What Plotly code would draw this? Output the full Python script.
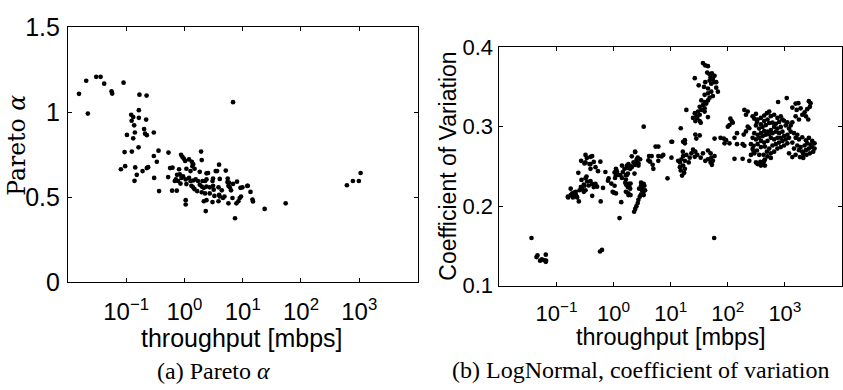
import plotly.graph_objects as go

# ---------------- Data: (a) Pareto alpha vs throughput ----------------
pareto_tp = [0.0155, 0.0206, 0.0220, 0.0306, 0.0364, 0.0419, 0.0561, 0.0575, 0.0901, 0.169, 0.224, 6.82,
             0.165, 0.122, 0.132, 0.124, 0.165, 0.220, 0.137, 0.103, 0.141, 0.203, 0.211, 0.226,
             0.298, 0.132, 0.163, 0.0938, 0.125, 0.359, 0.298, 0.336, 0.532, 0.0811, 0.096, 0.143,
             0.152, 0.191, 0.226, 0.238, 0.139, 0.302, 0.367, 0.525, 0.567, 0.624, 0.614, 0.739,
             1.93, 0.875, 0.925, 0.975, 1.03, 1.20, 1.34, 1.41, 1.37, 1.49, 1.98, 3.93,
             0.809, 1.08, 1.27, 1.83, 2.39, 2.54, 3.44, 3.63, 5.12, 0.748, 0.832, 0.889,
             0.948, 0.711, 0.683, 0.778, 1.05, 1.20, 1.27, 1.41, 1.56, 1.71, 2.04, 2.26,
             2.39, 3.10, 3.03, 4.04, 5.53, 5.82, 7.98, 0.855, 1.08, 1.32, 1.41, 1.49,
             1.83, 1.98, 2.15, 2.39, 2.72, 3.10, 3.18, 3.84, 4.37, 5.69, 5.98, 6.31,
             9.89, 12.2, 1.65, 1.98, 2.26, 2.72, 3.27, 3.93, 4.86, 4.59, 6.67, 8.89,
             9.35, 13.6, 14.7, 15.0, 1.05, 1.05, 2.15, 2.39, 3.03, 3.84, 4.04, 5.69,
             8.43, 7.80, 2.32, 7.38, 23.8, 54.6, 614, 778, 986, 1055, 5.47, 6.82,
             9.14, 12.0]
pareto_alpha = [1.107, 1.184, 0.991, 1.207, 1.207, 1.167, 1.122, 1.109, 1.173, 1.102, 1.097, 1.058,
                1.011, 0.984, 0.971, 0.949, 0.966, 0.956, 0.922, 0.866, 0.880, 0.900, 0.873, 0.864,
                0.880, 0.846, 0.793, 0.765, 0.768, 0.773, 0.742, 0.708, 0.762, 0.664, 0.682, 0.675,
                0.631, 0.653, 0.671, 0.676, 0.596, 0.613, 0.536, 0.618, 0.671, 0.673, 0.538, 0.538,
                0.768, 0.749, 0.736, 0.726, 0.713, 0.722, 0.708, 0.694, 0.682, 0.667, 0.718, 0.691,
                0.664, 0.667, 0.653, 0.649, 0.640, 0.642, 0.653, 0.653, 0.656, 0.631, 0.634, 0.613,
                0.622, 0.604, 0.595, 0.595, 0.604, 0.613, 0.595, 0.598, 0.604, 0.595, 0.595, 0.595,
                0.604, 0.609, 0.595, 0.607, 0.609, 0.585, 0.591, 0.580, 0.577, 0.567, 0.558, 0.547,
                0.573, 0.562, 0.555, 0.562, 0.558, 0.567, 0.544, 0.558, 0.540, 0.567, 0.558, 0.540,
                0.558, 0.567, 0.536, 0.529, 0.522, 0.522, 0.507, 0.513, 0.504, 0.495, 0.495, 0.495,
                0.504, 0.531, 0.486, 0.475, 0.482, 0.457, 0.476, 0.482, 0.471, 0.476, 0.504, 0.464,
                0.476, 0.464, 0.418, 0.376, 0.431, 0.464, 0.570, 0.595, 0.595, 0.642, 0.589, 0.578,
                0.555, 0.566]

# ---------------- Data: (b) LogNormal coefficient of variation ----------------
cov_tp = [
    0.0365, 0.0464, 0.0446, 0.0649, 0.0553, 0.0607, 0.0657, 0.0649, 0.0516, 0.578, 0.626, 1.27, 57.8,
    0.158, 0.177, 0.194, 0.216, 0.221, 0.210, 0.246, 0.267, 0.281, 0.301, 0.322, 0.422,
    0.594, 0.652, 1.01, 1.10, 1.36, 1.66, 1.77, 1.82, 1.98,
    2.29, 2.39, 2.51, 2.65, 2.72, 2.87, 3.03, 3.13, 3.19, 3.37, 2.80, 3.03,
    3.37, 5.44, 2.39, 0.422, 0.322, 0.394, 0.587, 0.241, 0.394, 0.481, 0.533, 0.718,
    1.10, 1.14, 1.40, 1.55, 1.71, 1.82, 2.03, 2.23, 2.38, 2.54, 2.72, 2.91,
    2.65, 1.95, 1.78, 2.32, 1.64, 1.31, 1.10, 4.18, 4.35, 4.97,
    0.274, 0.322, 0.344, 0.394, 0.422, 0.481, 0.449, 0.513, 0.367, 0.301, 0.274, 0.253,
    0.216, 0.188, 0.177, 0.201, 0.160, 0.230, 0.818, 0.796, 0.962, 1.64, 1.82, 1.95,
    1.82, 3.03, 3.33, 3.46, 3.56, 3.37, 0.270, 0.309, 0.322, 0.339, 0.378, 0.394,
    0.449, 0.309, 0.335, 1.04, 1.06, 1.22, 1.40, 1.45, 1.71, 2.08, 2.54, 2.38,
    2.08, 1.71, 1.60, 1.87, 1.98, 1.64, 2.72, 1.04, 0.912,
    36.7, 40.3, 44.9, 43.6, 48.0, 52.7, 50.0, 54.8, 58.6, 57.1, 51.3, 48.0, 62.7,
    26.4, 30.9, 38.3, 40.3, 44.9, 51.3, 44.9, 39.3, 48.0, 54.8, 67.0, 62.7,
    34.4, 39.3, 42.0, 36.7, 32.2, 34.4, 30.1, 26.4, 28.1, 32.2, 39.3, 44.9,
    29.2, 24.6, 27.0, 32.2, 39.3, 33.5, 44.9, 18.8, 15.0, 10.6, 16.5, 17.7,
    27.0, 28.1, 32.2, 111, 117, 122, 100, 107, 58.6, 74.6, 85.1, 93.4,
    87.7, 107, 24.6, 27.0, 23.0, 18.8, 16.5, 15.4, 14.5, 13.5, 17.7, 21.5,
    20.7, 16.5, 14.5, 15.0, 17.2, 15.8, 17.7, 26.4, 29.2, 33.5, 36.7, 44.9,
    50.0, 51.3, 54.8, 50.0, 44.9, 58.6, 52.7, 40.3, 6.07, 6.92, 6.07, 8.79,
    4.64, 7.41, 4.06, 4.83, 10.3, 10.3, 17.7, 16.3, 6.07,
    131, 145, 145, 131, 195, 208, 223, 272, 291, 324, 311, 223,
    238, 208, 190, 182, 195, 254, 182, 238, 254, 283, 311, 356,
    380, 371, 435, 760, 1076, 1540, 1720, 2630, 2810, 1607, 1884, 2213,
    2460, 2740, 1349, 2333, 2014, 2564, 1762, 1542, 332, 291, 324, 355,
    272, 332, 380, 434, 483, 531, 567, 648, 741, 847, 905, 434,
    496, 380, 311, 355, 406, 464, 531, 606, 693, 792, 967, 1105,
    1033, 847, 741, 648, 567, 496, 434, 380, 332, 291, 272, 311,
    355, 406, 464, 531, 606, 693, 792, 905, 1181, 1263, 1349, 1263,
    1105, 967, 847, 741, 648, 567, 496, 434, 380, 332, 283, 380,
    446, 531, 606, 693, 792, 905, 1033, 741, 648, 567, 483, 423,
    496, 567, 446, 847, 967, 1105, 380, 423, 446,
    1443, 1650, 1542, 1762, 2014, 2333, 2630, 3006, 3302, 2810, 2460, 2213,
    1884, 1650, 1443, 1762, 2014, 2333, 2630, 3006, 3302, 3133, 2740, 2399,
    2098, 1836, 2098, 1542, 1349, 1181, 1349, 1181,
]
cov_cv = [
    0.160, 0.138, 0.136, 0.139, 0.133, 0.132, 0.1315, 0.130, 0.1315, 0.143, 0.145, 0.185, 0.160,
    0.212, 0.214, 0.211, 0.215, 0.213, 0.2175, 0.206, 0.224, 0.221, 0.218, 0.220, 0.213,
    0.206, 0.223, 0.217, 0.216, 0.205, 0.227, 0.224, 0.216, 0.214,
    0.193, 0.1965, 0.200, 0.204, 0.208, 0.212, 0.215, 0.220, 0.224, 0.228, 0.222, 0.226,
    0.300, 0.275, 0.268, 0.263, 0.255, 0.253, 0.256, 0.242, 0.247, 0.249, 0.244, 0.243,
    0.247, 0.244, 0.251, 0.247, 0.251, 0.253, 0.250, 0.255, 0.252, 0.256, 0.254, 0.259,
    0.261, 0.247, 0.241, 0.241, 0.239, 0.239, 0.239, 0.263, 0.256, 0.247,
    0.233, 0.235, 0.231, 0.2315, 0.228, 0.228, 0.224, 0.2245, 0.226, 0.227, 0.224, 0.220,
    0.218, 0.216, 0.222, 0.213, 0.211, 0.211, 0.235, 0.232, 0.218, 0.218, 0.228, 0.222,
    0.214, 0.2295, 0.218, 0.2257, 0.220, 0.214, 0.257, 0.2537, 0.2645, 0.2607, 0.253, 0.262,
    0.2557, 0.2257, 0.2373, 0.2424, 0.2354, 0.2393, 0.2354, 0.243, 0.248, 0.249, 0.259, 0.2685,
    0.2627, 0.2393, 0.2295, 0.2245, 0.2284, 0.2335, 0.251, 0.2257, 0.2284,
    0.380, 0.377, 0.376, 0.368, 0.366, 0.367, 0.362, 0.360, 0.364, 0.356, 0.354, 0.358, 0.356,
    0.361, 0.352, 0.350, 0.356, 0.348, 0.344, 0.342, 0.340, 0.3365, 0.3385, 0.344, 0.349,
    0.333, 0.331, 0.329, 0.327, 0.325, 0.321, 0.319, 0.317, 0.313, 0.315, 0.323, 0.333,
    0.311, 0.311, 0.307, 0.307, 0.319, 0.305, 0.312, 0.321, 0.298, 0.281, 0.281, 0.283,
    0.290, 0.285, 0.289, 0.310, 0.307, 0.305, 0.300, 0.302, 0.285, 0.286, 0.285, 0.283,
    0.279, 0.279, 0.271, 0.2685, 0.2665, 0.2645, 0.263, 0.259, 0.255, 0.257, 0.257, 0.261,
    0.255, 0.251, 0.249, 0.245, 0.242, 0.2385, 0.247, 0.262, 0.2645, 0.261, 0.2665, 0.270,
    0.2665, 0.261, 0.257, 0.255, 0.259, 0.263, 0.252, 0.257, 0.263, 0.2625, 0.257, 0.235,
    0.263, 0.2645, 0.2575, 0.252, 0.281, 0.261, 0.279, 0.2685, 0.275,
    0.286, 0.2918, 0.278, 0.2595, 0.321, 0.315, 0.319, 0.313, 0.310, 0.306, 0.316, 0.300,
    0.298, 0.294, 0.290, 0.278, 0.276, 0.278, 0.2595, 0.257, 0.2645, 0.2685, 0.255, 0.253,
    0.251, 0.2556, 0.257, 0.331, 0.336, 0.329, 0.3295, 0.332, 0.3295, 0.321, 0.323, 0.318,
    0.322, 0.325, 0.324, 0.313, 0.315, 0.309, 0.309, 0.313, 0.253, 0.2665, 0.270, 0.2646,
    0.272, 0.309, 0.311, 0.314, 0.317, 0.319, 0.3132, 0.315, 0.311, 0.313, 0.309, 0.307,
    0.309, 0.303, 0.3015, 0.2976, 0.2996, 0.302, 0.3046, 0.305, 0.3035, 0.306, 0.3074, 0.3054,
    0.3015, 0.2996, 0.2976, 0.2996, 0.2957, 0.2937, 0.2945, 0.2918, 0.2898, 0.2918, 0.286, 0.284,
    0.286, 0.288, 0.2898, 0.2906, 0.2918, 0.2937, 0.2918, 0.2937, 0.2976, 0.3015, 0.3054, 0.2937,
    0.2898, 0.288, 0.286, 0.286, 0.284, 0.286, 0.282, 0.280, 0.282, 0.278, 0.276, 0.2743,
    0.275, 0.2724, 0.2763, 0.278, 0.280, 0.282, 0.284, 0.2724, 0.2685, 0.2665, 0.2685, 0.2646,
    0.2626, 0.2607, 0.2587, 0.2743, 0.2763, 0.279, 0.253, 0.2556, 0.251,
    0.2918, 0.2898, 0.286, 0.284, 0.2867, 0.2829, 0.286, 0.282, 0.279, 0.2774, 0.279, 0.2763,
    0.2743, 0.2763, 0.2724, 0.2704, 0.2685, 0.2704, 0.2724, 0.2743, 0.2724, 0.2685, 0.2665, 0.2646,
    0.2657, 0.2618, 0.2607, 0.2646, 0.2618, 0.2665, 0.280, 0.286,
]

# tick labels
x_tickvals = [0.1, 1, 10, 100, 1000]
x_ticktext = ["10<sup>\u22121</sup>", "10<sup>0</sup>", "10<sup>1</sup>", "10<sup>2</sup>", "10<sup>3</sup>"]
left_yticks = [0, 0.5, 1, 1.5]
left_yticktext = ["0", "0.5", "1", "1.5"]
right_yticks = [0.1, 0.2, 0.3, 0.4]
right_yticktext = ["0.1", "0.2", "0.3", "0.4"]

W, H = 843, 390
SANS = "Liberation Sans, Arial, Helvetica, sans-serif"
SERIF = "Liberation Serif, Times New Roman, serif"
WIDE_SERIF = "DejaVu Serif, Liberation Serif, serif"

fig = go.Figure()
fig.add_trace(go.Scatter(x=pareto_tp, y=pareto_alpha, mode="markers",
                         marker=dict(color="black", size=4.7, line=dict(width=0)),
                         xaxis="x", yaxis="y", showlegend=False, hoverinfo="skip"))
fig.add_trace(go.Scatter(x=cov_tp, y=cov_cv, mode="markers",
                         marker=dict(color="black", size=4.7, line=dict(width=0)),
                         xaxis="x2", yaxis="y2", showlegend=False, hoverinfo="skip"))

common = dict(showline=True, linecolor="black", linewidth=1, mirror="ticks",
              ticks="inside", ticklen=4, tickcolor="black", tickwidth=1,
              showgrid=False, zeroline=False)

fig.update_layout(
    width=W, height=H,
    margin=dict(l=0, r=0, t=0, b=0),
    paper_bgcolor="white", plot_bgcolor="white",
    xaxis=dict(type="log", range=[-2, 4], domain=[68 / W, 418 / W], anchor="y",
               tickvals=x_tickvals, ticktext=x_ticktext,
               tickfont=dict(family=SANS, size=24, color="black"), ticklabelstandoff=8, **common),
    yaxis=dict(range=[0, 1.5], domain=[1 - 289 / H, 1 - 14 / H], anchor="x",
               tickvals=left_yticks, ticktext=left_yticktext,
               tickfont=dict(family=SANS, size=25, color="black"), ticklabelstandoff=2, **common),
    xaxis2=dict(type="log", range=[-2, 4], domain=[500 / W, 1.0], anchor="y2",
                tickvals=x_tickvals, ticktext=x_ticktext,
                tickfont=dict(family=SANS, size=22, color="black"), ticklabelstandoff=8, **common),
    yaxis2=dict(range=[0.1, 0.4], domain=[1 - 292.7 / H, 1 - 35.7 / H], anchor="x2",
                tickvals=right_yticks, ticktext=right_yticktext,
                tickfont=dict(family=SANS, size=22, color="black"), ticklabelstandoff=1, **common),
)

def ann(text, px, py, size, family, angle=0):
    return dict(text=text, x=px / W, y=1 - py / H, xref="paper", yref="paper",
                xanchor="center", yanchor="middle", showarrow=False, textangle=angle,
                font=dict(family=family, size=size, color="black"))

fig.update_layout(annotations=[
    ann("throughput [mbps]", 242.5, 349, 25, SANS),
    ann("throughput [mbps]", 671.7, 348, 23.5, SANS),
    ann("Pareto <i>\u03b1</i>", 17, 141, 23.5, WIDE_SERIF, -90),
    ann("Coefficient of Variation", 449, 164, 23, SANS, -90),
    ann("(a) Pareto <i>\u03b1</i>", 213.7, 385, 24, SERIF),
    ann("(b) LogNormal, coefficient of variation", 641, 384, 24, SERIF),
])

fig.write_html("out.html")
